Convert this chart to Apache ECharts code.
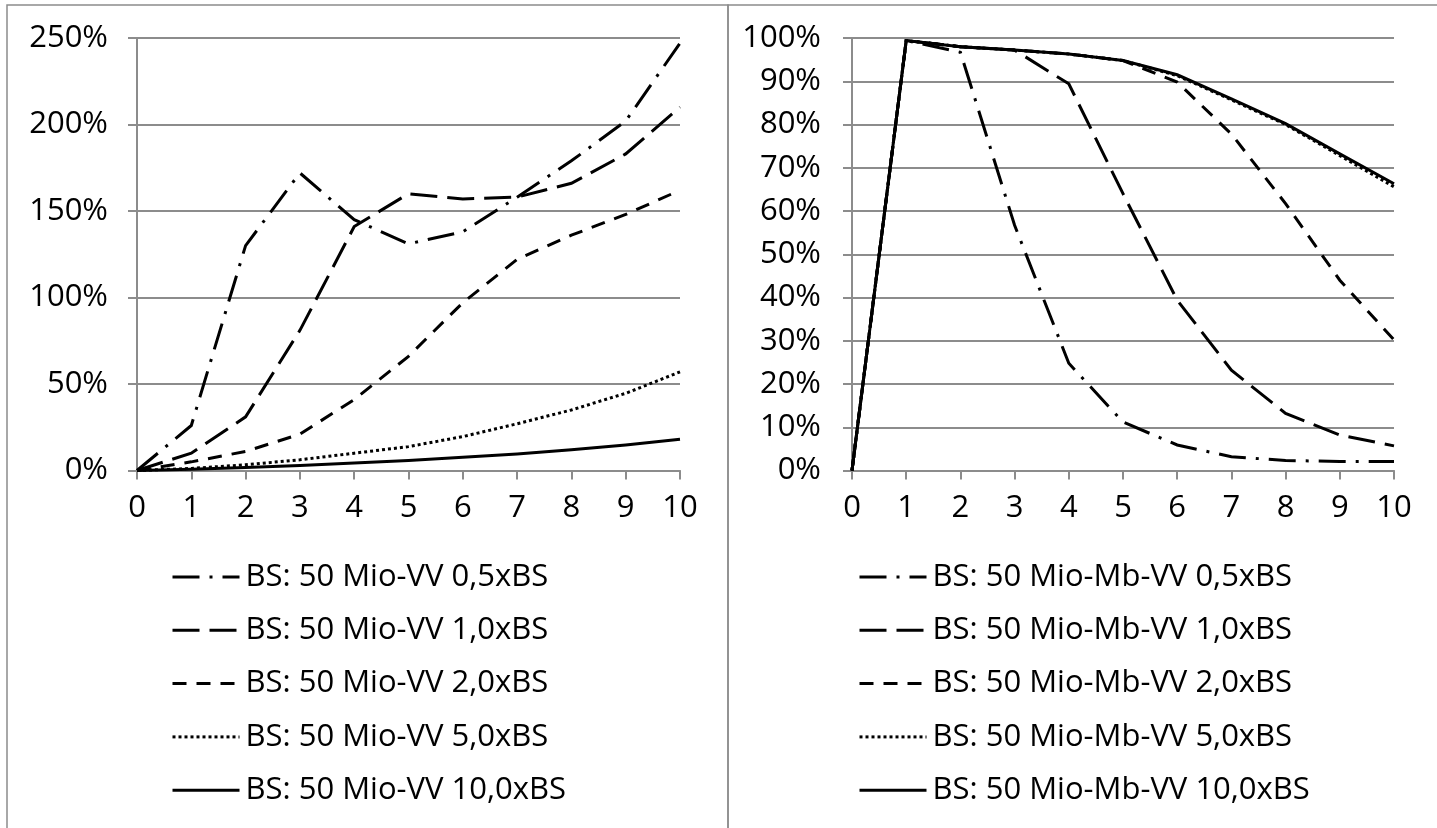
<!DOCTYPE html>
<html>
<head>
<meta charset="utf-8">
<script src="https://cdn.jsdelivr.net/npm/echarts@6/dist/echarts.min.js"></script>
<style>
html,body{margin:0;padding:0;background:#fff;}
#c{width:1437px;height:828px;}
</style>
</head>
<body>
<div id="c"></div>
<script>
// X categories (shared)
const xValues = [0, 1, 2, 3, 4, 5, 6, 7, 8, 9, 10];

// Left panel: BS: 50 Mio-VV (percent)
const leftNames = ['BS: 50 Mio-VV 0,5xBS', 'BS: 50 Mio-VV 1,0xBS', 'BS: 50 Mio-VV 2,0xBS', 'BS: 50 Mio-VV 5,0xBS', 'BS: 50 Mio-VV 10,0xBS'];
const left05  = [0, 26, 130, 172, 145, 131, 138, 158, 179, 202, 247];
const left10  = [0, 10, 31, 81, 141, 160, 157, 158, 166, 183, 210];
const left20  = [0, 5, 11, 21, 41, 66, 97, 122, 136, 148, 162];
const left50  = [0, 1.2, 3.3, 6.2, 10, 13.8, 19.6, 27, 35, 44.6, 57];
const left100 = [0, 0.7, 1.7, 2.9, 4.3, 5.8, 7.7, 9.6, 12, 14.8, 18];
const leftTicks = [0, 50, 100, 150, 200, 250];

// Right panel: BS: 50 Mio-Mb-VV (percent)
const rightNames = ['BS: 50 Mio-Mb-VV 0,5xBS', 'BS: 50 Mio-Mb-VV 1,0xBS', 'BS: 50 Mio-Mb-VV 2,0xBS', 'BS: 50 Mio-Mb-VV 5,0xBS', 'BS: 50 Mio-Mb-VV 10,0xBS'];
const right05  = [0, 99.4, 96.7, 56.7, 24.8, 11.2, 5.9, 3.2, 2.3, 2.1, 2.1];
const right10  = [0, 99.4, 98, 97.2, 89.4, 64, 39.4, 23.2, 13.2, 8.2, 5.7];
const right20  = [0, 99.4, 98, 97.2, 96.3, 94.8, 89.8, 77.8, 61.7, 44, 30.2];
const right50  = [0, 99.4, 98, 97.2, 96.3, 94.8, 91.3, 85.7, 80, 72.8, 65.6];
const right100 = [0, 99.4, 98, 97.2, 96.3, 94.8, 91.5, 85.9, 80.2, 73.2, 66.3];
const rightTicks = [0, 10, 20, 30, 40, 50, 60, 70, 80, 90, 100];

const dashStyles = [[27, 10, 3, 10], [27, 10], [14, 10], [3, 3], 'solid'];
const FONT = '"Open Sans", "Noto Sans", sans-serif';
const FS = 31;
const GRID = '#8c8c8c';

function pairs(arr) { return xValues.map((x, i) => [x, arr[i]]); }

function makeSeries(names, datasets, idx) {
  return names.map((n, i) => ({
    name: n,
    type: 'line',
    xAxisIndex: idx,
    yAxisIndex: idx,
    data: pairs(datasets[i]),
    symbol: 'none',
    showSymbol: false,
    silent: true,
    animation: false,
    lineStyle: { color: '#000', width: 3, type: dashStyles[i], cap: 'butt', join: 'miter' },
    itemStyle: { color: '#000' },
    z: 10 - i
  }));
}

function xAxis(idx) {
  return {
    type: 'value', gridIndex: idx, min: 0, max: 10, interval: 1,
    axisLine: { show: true, lineStyle: { color: GRID, width: 2 } },
    axisTick: { show: true, length: 9, lineStyle: { color: GRID, width: 2 } },
    splitLine: { show: false },
    axisLabel: { color: '#000', fontFamily: FONT, fontSize: FS, margin: 22 }
  };
}
function yAxis(idx, max, interval, margin) {
  return {
    type: 'value', gridIndex: idx, min: 0, max: max, interval: interval,
    axisLine: { show: true, lineStyle: { color: GRID, width: 2 } },
    axisTick: { show: true, length: 9, lineStyle: { color: GRID, width: 2 } },
    splitLine: { show: true, lineStyle: { color: GRID, width: 2 } },
    axisLabel: { color: '#000', fontFamily: FONT, fontSize: FS, margin: margin, formatter: '{value}%' }
  };
}
function legend(names, left) {
  return {
    data: names,
    orient: 'vertical',
    left: left,
    top: 559,
    itemWidth: 67,
    itemHeight: 14,
    itemGap: 17.3,
    padding: 0,
    selectedMode: false,
    itemStyle: { opacity: 0 },
    lineStyle: { width: 3, opacity: 1 },
    textStyle: { color: '#000', fontFamily: FONT, fontSize: FS, lineHeight: 36, padding: [0, 0, 0, 1] }
  };
}

const chart = echarts.init(document.getElementById('c'), null, { renderer: 'canvas' });
chart.setOption({
  animation: false,
  backgroundColor: '#fff',
  grid: [
    { left: 137, right: 1437 - 680, top: 38, bottom: 828 - 470.5 },
    { left: 852, right: 1437 - 1394, top: 38, bottom: 828 - 470.5 }
  ],
  xAxis: [xAxis(0), xAxis(1)],
  yAxis: [yAxis(0, 250, 50, 29), yAxis(1, 100, 10, 31)],
  legend: [legend(leftNames, 171), legend(rightNames, 858)],
  series: [].concat(
    makeSeries(leftNames, [left05, left10, left20, left50, left100], 0),
    makeSeries(rightNames, [right05, right10, right20, right50, right100], 1)
  ),
  graphic: [
    { type: 'rect', silent: true, shape: { x: 7, y: 5, width: 721, height: 900 }, style: { fill: 'none', stroke: GRID, lineWidth: 1.5 } },
    { type: 'rect', silent: true, shape: { x: 728, y: 5, width: 740, height: 900 }, style: { fill: 'none', stroke: GRID, lineWidth: 1.5 } }
  ]
});
</script>
</body>
</html>
